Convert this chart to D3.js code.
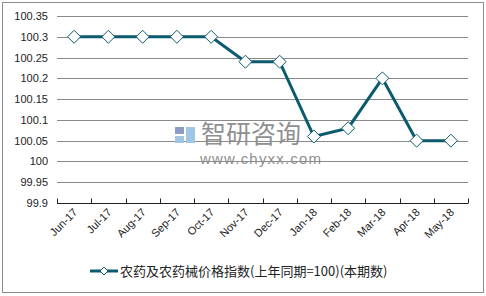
<!DOCTYPE html>
<html>
<head>
<meta charset="utf-8">
<script src="https://cdn.jsdelivr.net/npm/d3@7"></script>
<style>
  body { margin: 0; background: #fff; }
  svg { display: block; font-family: "Liberation Sans", Arial, sans-serif; }
</style>
</head>
<body>
<script>
const months = ["Jun-17", "Jul-17", "Aug-17", "Sep-17", "Oct-17", "Nov-17",
    "Dec-17", "Jan-18", "Feb-18", "Mar-18", "Apr-18", "May-18"];
const values = [100.3, 100.3, 100.3, 100.3, 100.3, 100.24,
    100.24, 100.06, 100.08, 100.2, 100.05, 100.05];
const yTicks = [99.9, 99.95, 100, 100.05, 100.1, 100.15, 100.2, 100.25, 100.3, 100.35];
const seriesName = "农药及农药械价格指数(上年同期=100)(本期数)";

const w = 486, h = 296;
const padL = 57, padR = 468, padT = 16, padB = 203;
const lineColor = "#0b5a6e";

const svg = d3.select("body").append("svg")
    .attr("width", w)
    .attr("height", h);

// outer frame
svg.append("rect")
    .attr("x", 2.5).attr("y", 2.5)
    .attr("width", w - 5).attr("height", h - 6)
    .attr("fill", "none")
    .attr("stroke", "#8c8c8c");

const xScale = d3.scaleBand().domain(months).range([padL, padR]);
const yScale = d3.scaleLinear().domain([99.9, 100.35]).range([padB, padT]);

// gridlines
svg.append("g")
    .selectAll("line")
    .data(yTicks.slice(1))
    .enter()
    .append("line")
    .attr("x1", padL).attr("x2", padR)
    .attr("y1", d => Math.round(yScale(d)) + 0.5)
    .attr("y2", d => Math.round(yScale(d)) + 0.5)
    .attr("stroke", "#8a8a8a");

// watermark
const wm = svg.append("g");
wm.append("rect").attr("x", 175).attr("y", 127).attr("width", 9).attr("height", 7).attr("fill", "#8a9cc4");
wm.append("rect").attr("x", 175).attr("y", 136).attr("width", 9).attr("height", 7).attr("fill", "#9fc6e4");
wm.append("rect").attr("x", 186).attr("y", 127).attr("width", 9).attr("height", 16).attr("fill", "#9fc6e4");
wm.append("text")
    .attr("x", 201).attr("y", 143)
    .attr("font-family", "Noto Sans CJK SC")
    .attr("font-size", 25)
    .attr("fill", "#8f8f8f")
    .text("智研咨询");
wm.append("text")
    .attr("x", 200).attr("y", 164)
    .attr("font-size", 15)
    .attr("letter-spacing", 1.2)
    .attr("fill", "#8f8f8f")
    .text("www.chyxx.com");

// y axis labels
svg.append("g")
    .selectAll("text")
    .data(yTicks)
    .enter()
    .append("text")
    .attr("x", padL - 9)
    .attr("y", d => yScale(d) + 4)
    .attr("text-anchor", "end")
    .attr("font-size", 11)
    .attr("fill", "#222")
    .text(d => d3.format("")(+d.toFixed(2)));

// x axis
const xAxis = svg.append("g")
    .attr("transform", "translate(0," + (padB + 0.5) + ")")
    .call(d3.axisBottom(xScale).tickSize(4).tickSizeOuter(0));
xAxis.select(".domain").attr("stroke", "#222").attr("d", "M" + padL + ",0H" + padR);
xAxis.selectAll(".tick line").remove();
xAxis.selectAll(".tick text").remove();

// ticks between categories
xAxis.selectAll(".sep")
    .data(d3.range(months.length + 1))
    .enter()
    .append("line")
    .attr("x1", i => Math.round(padL + i * xScale.bandwidth()) + 0.5)
    .attr("x2", i => Math.round(padL + i * xScale.bandwidth()) + 0.5)
    .attr("y1", 0).attr("y2", -5)
    .attr("stroke", "#222");

svg.append("g")
    .selectAll("text")
    .data(months)
    .enter()
    .append("text")
    .attr("transform", d => "translate(" + (xScale(d) + xScale.bandwidth() / 2 + 4) + "," + (padB + 10) + ")rotate(-45)")
    .attr("text-anchor", "end")
    .attr("font-size", 11)
    .attr("fill", "#222")
    .text(d => d);

// line
const line = d3.line()
    .x((d, i) => xScale(months[i]) + xScale.bandwidth() / 2)
    .y(d => yScale(d));

svg.append("path")
    .datum(values)
    .attr("d", line)
    .attr("fill", "none")
    .attr("stroke", lineColor)
    .attr("stroke-width", 3);

const diamond = s => "M0," + (-s) + "L" + s + ",0L0," + s + "L" + (-s) + ",0Z";

svg.append("g")
    .selectAll("path")
    .data(values)
    .enter()
    .append("path")
    .attr("transform", (d, i) => "translate(" + (xScale(months[i]) + xScale.bandwidth() / 2) + "," + yScale(d) + ")")
    .attr("d", diamond(6.5))
    .attr("fill", "#fff")
    .attr("stroke", lineColor)
    .attr("stroke-width", 1);

// legend
const lg = svg.append("g").attr("transform", "translate(90,271)");
lg.append("line").attr("x1", 0).attr("x2", 28).attr("y1", 0).attr("y2", 0)
    .attr("stroke", lineColor).attr("stroke-width", 3);
lg.append("path").attr("transform", "translate(14,0)").attr("d", diamond(4))
    .attr("fill", "#fff").attr("stroke", lineColor);
lg.append("text")
    .attr("x", 30).attr("y", 5)
    .attr("font-family", "Noto Sans CJK SC, sans-serif")
    .attr("font-size", 13)
    .attr("fill", "#222")
    .text(seriesName);
</script>
</body>
</html>
